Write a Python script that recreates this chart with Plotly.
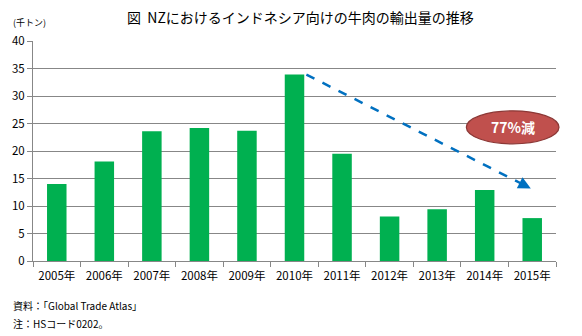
import plotly.graph_objects as go

years = ["2005年", "2006年", "2007年", "2008年", "2009年", "2010年",
         "2011年", "2012年", "2013年", "2014年", "2015年"]
exports = [14.0, 18.1, 23.6, 24.2, 23.7, 33.9, 19.5, 8.1, 9.4, 12.9, 7.8]
y_ticks = [0, 5, 10, 15, 20, 25, 30, 35, 40]

FONT = "Noto Sans CJK JP, Meiryo, sans-serif"
GRID = "#878787"

fig = go.Figure()
fig.add_trace(go.Bar(x=years, y=exports, marker=dict(color="#00B050", line=dict(width=0)),
                     width=0.41))

W, H = 582, 336
fig.update_layout(
    width=W, height=H,
    margin=dict(l=31, r=26, t=41, b=75),
    paper_bgcolor="white", plot_bgcolor="white",
    font=dict(family=FONT, size=11, color="#000000"),
    showlegend=False,
)
fig.update_xaxes(
    type="category", range=[-0.5, 10.5],
    showline=True, linecolor=GRID, linewidth=1,
    ticks="outside", tickson="boundaries", ticklen=5, tickcolor=GRID,
    tickfont=dict(size=11.5, family=FONT), showgrid=False,
    ticklabelstandoff=4,
)
fig.update_yaxes(
    range=[0, 40], tickvals=y_ticks,
    showline=True, linecolor=GRID, linewidth=1,
    showgrid=True, gridcolor=GRID, gridwidth=1,
    ticks="outside", ticklen=5, tickcolor=GRID,
    tickfont=dict(size=11.5, family=FONT), zeroline=False,
)

# dashed trend arrow from 2010 to 2015
x_start, y_start = 5.25, exports[5]
x_end, y_end = 9.97, 13.2
fig.add_shape(type="line", xref="x", yref="y", x0=x_start, y0=y_start, x1=x_end, y1=y_end,
              line=dict(color="#0070C0", width=2.5, dash="dash"))
fig.add_annotation(xref="x", yref="y", axref="x", ayref="y",
                   x=x_end, y=y_end, ax=x_end - 0.25, ay=y_end + 1.1,
                   showarrow=True, arrowhead=2, arrowsize=1, arrowwidth=2.5,
                   arrowcolor="#0070C0", text="")

# 77% decrease ellipse
fig.add_shape(type="circle", xref="paper", yref="y",
              x0=(466 - 31) / 525, x1=(559 - 31) / 525, y0=21.3, y1=27.3,
              fillcolor="#C0504D", line=dict(color="#8C3836", width=1.2))
fig.add_annotation(xref="paper", yref="y", x=(512.5 - 31) / 525, y=24.3,
                   xanchor="center", yanchor="middle",
                   text="<b>77%減</b>", showarrow=False,
                   font=dict(color="white", size=14, family=FONT))

# title and notes
fig.add_annotation(xref="paper", yref="paper", x=(300 - 31) / 525, y=1, yshift=24,
                   xanchor="center", yanchor="middle",
                   text="図  NZにおけるインドネシア向けの牛肉の輸出量の推移",
                   showarrow=False, font=dict(size=14, family=FONT))
fig.add_annotation(xref="paper", yref="paper", x=-22 / 525, y=1, yshift=19,
                   xanchor="left", yanchor="middle", text="(千トン)", showarrow=False,
                   font=dict(size=9, family=FONT))
fig.add_annotation(xref="paper", yref="paper", x=-22 / 525, y=0, yshift=-44,
                   xanchor="left", yanchor="middle", text="資料：「Global Trade Atlas」",
                   showarrow=False, font=dict(size=10, family=FONT))
fig.add_annotation(xref="paper", yref="paper", x=-22 / 525, y=0, yshift=-62,
                   xanchor="left", yanchor="middle", text="注：HSコード0202。",
                   showarrow=False, font=dict(size=10, family=FONT))

fig.write_html("out.html")
